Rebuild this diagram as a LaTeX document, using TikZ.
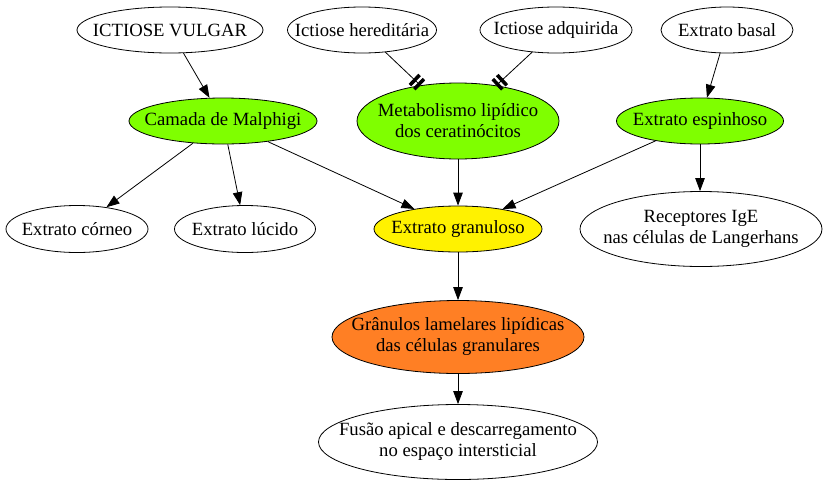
\documentclass[tikz,border=0pt]{standalone}
\usepackage{fontspec}
\setmainfont{Liberation Serif}
\usepackage{tikz}
\usetikzlibrary{shapes.geometric}
\usetikzlibrary{arrows.meta}
\definecolor{folha}{HTML}{7FFF00}
\definecolor{laranja}{HTML}{FF7F24}
\tikzset{>={Triangle[length=13pt, width=9.5pt]}}
\tikzset{
    elipse/.style={draw, ellipse, inner xsep=-30pt, inner ysep=-10pt, align=center, line width=.8pt,
        font=\fontsize{18.67}{21}\selectfont},
    seta/.style={->, line width=.8pt},
    bloqueio/.style={-{Rectangle[length=3.5pt, width=14pt, sep=2.5pt] Rectangle[length=3.5pt, width=14pt]}, line width=.8pt}
}

\begin{document}
\begin{tikzpicture}[x=1pt, y=-1pt]
    \useasboundingbox (0, 0) rectangle (826, 485);
    % linha de cima
    \node[elipse, minimum width=186pt, minimum height=46pt](vulgar) at (170, 30){ICTIOSE VULGAR};
    \node[elipse, minimum width=149pt, minimum height=46pt](hered) at (362, 30){Ictiose hereditária};
    \node[elipse, minimum width=152pt, minimum height=46pt](adq) at (556, 30){Ictiose adquirida};
    \node[elipse, minimum width=132pt, minimum height=46pt](basal) at (727, 30){Extrato basal};
    % camadas
    \node[elipse, fill=folha, minimum width=188pt, minimum height=46pt](malphigi) at (223, 121){Camada de Malphigi};
    \node[elipse, fill=folha, minimum width=202pt, minimum height=76pt](metab) at (458, 121){Metabolismo lipídico\\dos ceratinócitos};
    \node[elipse, fill=folha, minimum width=167pt, minimum height=46pt](espinhoso) at (700, 121){Extrato espinhoso};
    \node[elipse, minimum width=142pt, minimum height=47pt](corneo) at (77, 229){Extrato córneo};
    \node[elipse, minimum width=141pt, minimum height=47pt](lucido) at (245, 229){Extrato lúcido};
    \node[elipse, fill=yellow, minimum width=168pt, minimum height=46pt](granuloso) at (458, 229){Extrato granuloso};
    \node[elipse, minimum width=242pt, minimum height=75pt](ige) at (701, 229){Receptores IgE\\nas células de Langerhans};
    \node[elipse, fill=laranja, minimum width=252pt, minimum height=73pt](granulos) at (458, 337){Grânulos lamelares lipídicas\\das células granulares};
    \node[elipse, minimum width=279pt, minimum height=75pt](fusao) at (458, 442){Fusão apical e descarregamento\\no espaço intersticial};

    \draw[seta](vulgar)--(malphigi);
    \draw[bloqueio](hered)--(metab);
    \draw[bloqueio](adq)--(metab);
    \draw[seta](basal)--(espinhoso);
    \draw[seta](malphigi)--(corneo);
    \draw[seta](malphigi)--(lucido);
    \draw[seta](malphigi)--(granuloso);
    \draw[seta](metab.south)--(granuloso.north);
    \draw[seta](espinhoso)--(granuloso);
    \draw[seta](espinhoso.south)--(espinhoso.south |- ige.north);
    \draw[seta](granuloso.south)--(granulos.north);
    \draw[seta](granulos.south)--(fusao.north);
\end{tikzpicture}
\end{document}
